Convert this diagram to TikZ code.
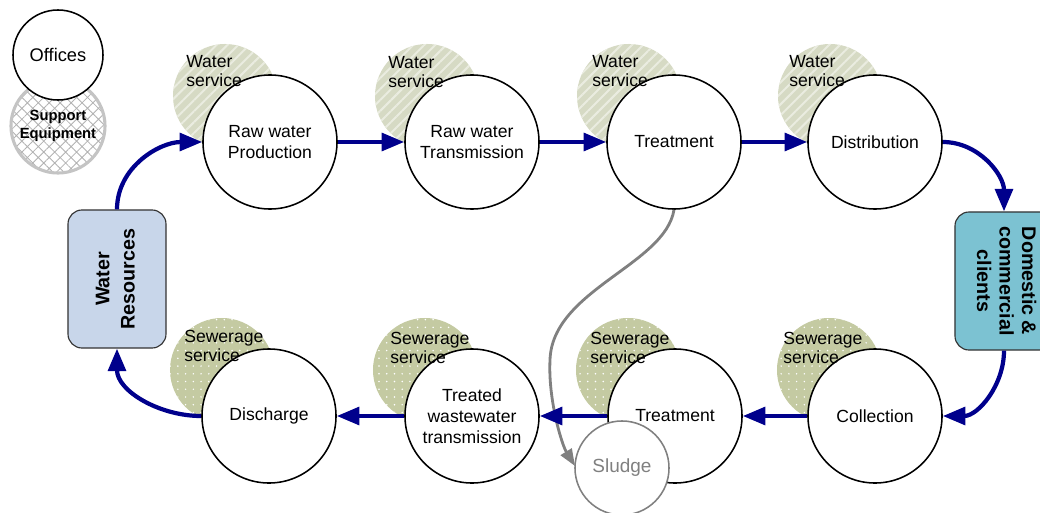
\documentclass[tikz,border=0pt]{standalone}
\usepackage{fontspec}
\setmainfont{Liberation Sans}
\usepackage{graphicx}
\usetikzlibrary{arrows.meta,patterns.meta}
\definecolor{flownavy}{RGB}{0,0,140}
\definecolor{wsfill}{RGB}{214,218,196}
\definecolor{wsstripe}{RGB}{234,236,224}
\definecolor{ssfill}{RGB}{196,202,162}
\definecolor{wrfill}{RGB}{200,214,234}
\definecolor{dcfill}{RGB}{124,194,210}
\definecolor{sludgegray}{RGB}{128,128,128}
\definecolor{suppgray}{RGB}{196,196,196}
\tikzset{
  proc/.style={circle, draw, line width=1.1pt, fill=white, minimum size=3.35cm, inner sep=0pt, align=center, font={\fontsize{12.5}{14.5}\selectfont}},
  wsvc/.style={circle, minimum size=2.6cm, inner sep=0pt, preaction={fill=wsfill}, pattern={Lines[angle=45,distance=5.5pt,line width=1.4pt]}, pattern color=wsstripe},
  ssvc/.style={circle, minimum size=2.6cm, inner sep=0pt, preaction={fill=ssfill}, pattern={Dots[radius=0.6pt,distance=5.5pt]}, pattern color=white},
  svclabel/.style={anchor=west, align=left, inner sep=0pt, font={\fontsize{12.5}{14}\selectfont}},
  flow/.style={draw=flownavy, line width=3pt, -{Triangle[length=16pt,width=12.5pt]}},
  sludgeflow/.style={draw=sludgegray, line width=2pt, -{Triangle[length=12pt,width=9pt]}},
  endbox/.style={draw=black!80, line width=0.8pt, rounded corners=10pt, minimum width=2.45cm, minimum height=3.45cm, inner sep=0pt, font={\bfseries\fontsize{14}{17.8}\selectfont}}
}
\begin{document}
\begin{tikzpicture}[x=0.025cm, y=0.025cm]
\useasboundingbox (0,0) rectangle (1040,-513);
\clip (0,0) rectangle (1040,-513);
% service areas behind the steps
\node[wsvc] (prodws) at (225,-96) {};
\node[wsvc] (transws) at (427,-96) {};
\node[wsvc] (tmtwws) at (629,-96) {};
\node[wsvc] (distws) at (830,-96) {};
\node[ssvc] (dischss) at (222,-370) {};
\node[ssvc] (twtss) at (425,-370) {};
\node[ssvc] (tmtsss) at (628,-370) {};
\node[ssvc] (collss) at (829,-370) {};
% offices
\node[circle, minimum size=2.35cm, inner sep=0pt, draw=suppgray, line width=2.2pt, preaction={fill=white}, pattern={Hatch[angle=45,distance=5.5pt,line width=0.6pt]}, pattern color=black!30, align=center, font={\bfseries\fontsize{10.5}{12.5}\selectfont}] (supp) at (58,-126) {Support\\Equipment};
\node[proc, minimum size=2.25cm, font={\fontsize{13}{15}\selectfont}] (off) at (58,-55) {Offices};
% water chain
\node[proc] (prod) at (270,-142) {Raw water\\Production};
\node[proc] (trans) at (472,-142) {Raw water\\Transmission};
\node[proc] (tmtw) at (674,-142) {Treatment};
\node[proc] (dist) at (875,-142) {Distribution};
% sewerage chain
\node[proc] (disch) at (269,-416) {Discharge};
\node[proc, font={\fontsize{12.5}{15}\selectfont}] (twt) at (472,-416) {Treated\\wastewater\\transmission};
\node[proc] (tmts) at (675,-416) {Treatment};
\node[proc] (coll) at (875,-416) {Collection};
% ends of the cycle
\node[endbox, fill=wrfill] (wr) at (117,-279) {\rotatebox{90}{\begin{tabular}{@{}c@{}}Water\\Resources\end{tabular}}};
\node[endbox, fill=dcfill, font={\bfseries\fontsize{14}{16}\selectfont}] (dom) at (1004,-281) {\rotatebox{-90}{\begin{tabular}{@{}c@{}}Domestic \&\\commercial\\clients\end{tabular}}};
% sludge
\coordinate (bend) at (550,-360);
\draw[sludgeflow] (tmtw.south) .. controls (665,-265) and (552,-290) .. (bend) .. controls (548,-400) and (562,-445) .. (575,-466);
\node[circle, draw=sludgegray, line width=1.1pt, fill=white, minimum size=2.35cm, inner sep=0pt, text=sludgegray, font={\fontsize{13.5}{15}\selectfont}] (sludge) at (622,-468) {Sludge};
% flows
\draw[flow] (wr.north) to[out=90,in=180] (prod.west);
\draw[flow] (prod.east) -- (trans.west);
\draw[flow] (trans.east) -- (tmtw.west);
\draw[flow] (tmtw.east) -- (dist.west);
\draw[flow] (dist.east) to[out=0,in=90] (dom.north);
\draw[flow] (dom.south) to[out=-90,in=0] (coll.east);
\draw[flow] (coll.west) -- (tmts.east);
\draw[flow] (tmts.west) -- (twt.east);
\draw[flow] (twt.west) -- (disch.east);
\draw[flow] (disch.west) to[out=180,in=-90] (wr.south);
% service labels
\node[svclabel] at (186,-71) {Water\\service};
\node[svclabel] at (388,-72) {Water\\service};
\node[svclabel] at (592,-71) {Water\\service};
\node[svclabel] at (789,-71) {Water\\service};
\node[svclabel] at (184,-346) {Sewerage\\service};
\node[svclabel] at (390,-348) {Sewerage\\service};
\node[svclabel] at (590,-348) {Sewerage\\service};
\node[svclabel] at (783,-348) {Sewerage\\service};
\end{tikzpicture}
\end{document}
